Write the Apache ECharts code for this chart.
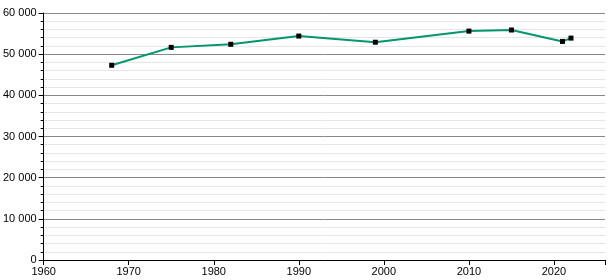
<!DOCTYPE html>
<html><head><meta charset="utf-8">
<script src="https://cdn.jsdelivr.net/npm/echarts@6/dist/echarts.min.js"></script>
<style>html,body{margin:0;padding:0;background:#fff}#c{width:615px;height:280px}</style>
</head><body><div id="c"></div>
<script>
const years = [1968, 1975, 1982, 1990, 1999, 2010, 2015, 2021, 2022];
const population = [47300, 51650, 52400, 54400, 52900, 55600, 55870, 53100, 53900];

const chart = echarts.init(document.getElementById('c'), null, {renderer: 'canvas'});
chart.setOption({
  animation: false,
  grid: {left: 42, right: 10, top: 13, bottom: 20, containLabel: false},
  xAxis: {
    type: 'value', min: 1960, max: 2026, interval: 10,
    axisLine: {show: true, onZero: false, lineStyle: {color: '#000', width: 1}},
    axisTick: {show: true, length: 5, lineStyle: {color: '#000'}},
    axisLabel: {color: '#000', fontFamily: 'Liberation Sans, Arial', fontSize: 11, margin: 6,
      formatter: v => (v % 10 === 0 && v <= 2020) ? String(v) : ''},
    splitLine: {show: false}
  },
  yAxis: {
    type: 'value', min: 0, max: 60000, interval: 10000,
    axisLine: {show: true, lineStyle: {color: '#000', width: 1}},
    axisTick: {show: true, length: 5, lineStyle: {color: '#000'}},
    minorTick: {show: true, splitNumber: 5, length: 3, lineStyle: {color: '#000'}},
    axisLabel: {color: '#000', fontFamily: 'Liberation Sans, Arial', fontSize: 11, margin: 7,
      formatter: v => v === 0 ? '0' : String(v).replace(/\B(?=(\d{3})+(?!\d))/g, ' ')},
    splitLine: {show: true, lineStyle: {color: '#888', width: 1}},
    minorSplitLine: {show: true, lineStyle: {color: '#e6e6e6', width: 1}}
  },
  series: [{
    type: 'line',
    data: years.map((y, i) => [y, population[i]]),
    lineStyle: {color: '#00966e', width: 2},
    symbol: 'rect', symbolSize: 5,
    itemStyle: {color: '#000'},
    z: 3
  }]
});
</script></body></html>
